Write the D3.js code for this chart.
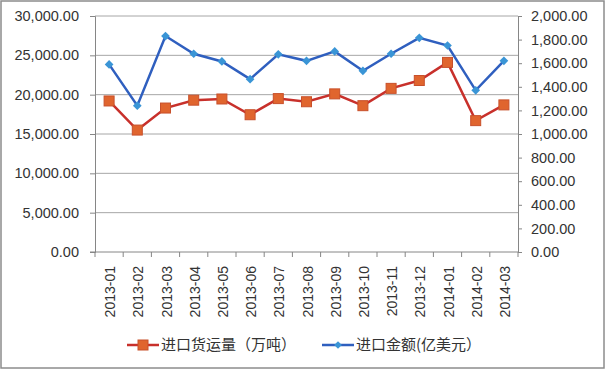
<!DOCTYPE html>
<html>
<head>
<meta charset="utf-8">
<script src="https://cdn.jsdelivr.net/npm/d3@7"></script>
<style>
body { margin: 0; background: #fff; }
text { font-family: "Liberation Sans", Arial, sans-serif; fill: #333; }
.legend text { font-family: "Noto Sans CJK SC", sans-serif; }
</style>
</head>
<body>
<div id="chart"></div>
<script>
const months = ["2013-01","2013-02","2013-03","2013-04","2013-05","2013-06","2013-07","2013-08",
	"2013-09","2013-10","2013-11","2013-12","2014-01","2014-02","2014-03"];
// 进口货运量（万吨） left axis
const tonnage = [19200,15500,18300,19300,19450,17450,19500,19100,20100,18600,20800,21800,24100,16700,18700];
// 进口金额（亿美元） right axis
const amount = [1590,1240,1830,1680,1615,1465,1675,1620,1700,1535,1680,1815,1750,1370,1620];
const leftTicks = [0,5000,10000,15000,20000,25000,30000];
const rightTicks = [0,200,400,600,800,1000,1200,1400,1600,1800,2000];
const seriesNames = ["进口货运量（万吨）","进口金额(亿美元）"];

const w = 607, h = 370;
const plotL = 95, plotR = 518, plotT = 16, plotB = 252;

const svg = d3.select("#chart").append("svg")
	.attr("width", w)
	.attr("height", h);

svg.append("rect")
	.attr("x", 1).attr("y", 1)
	.attr("width", 603).attr("height", 367)
	.attr("fill", "none")
	.attr("stroke", "#8c8c8c")
	.attr("stroke-width", 1.5);

const x = d3.scaleBand().domain(months).range([plotL, plotR]);
const yL = d3.scaleLinear().domain([0, 30000]).range([plotB, plotT]);
const yR = d3.scaleLinear().domain([0, 2000]).range([plotB, plotT]);
const fmt = d3.format(",.2f");
const cx = i => x(months[i]) + x.bandwidth()/2;

// gridlines
svg.append("g").selectAll("line")
	.data(leftTicks.slice(1))
	.join("line")
	.attr("x1", plotL).attr("x2", plotR)
	.attr("y1", d => yL(d)).attr("y2", d => yL(d))
	.attr("stroke", "#a6a6a6")
	.attr("stroke-width", 1);

// left axis
const gL = svg.append("g")
	.attr("transform", `translate(${plotL},0)`)
	.call(d3.axisLeft(yL).tickValues(leftTicks).tickSize(5).tickPadding(11).tickFormat(fmt));
gL.select(".domain").attr("stroke", "#868686");
gL.selectAll(".tick line").attr("stroke", "#868686");
gL.selectAll("text").attr("font-size", 14.5).attr("fill", "#333").attr("font-family", null);

// right axis
const gR = svg.append("g")
	.attr("transform", `translate(${plotR},0)`)
	.call(d3.axisRight(yR).tickValues(rightTicks).tickSize(4).tickPadding(9).tickFormat(fmt));
gR.select(".domain").attr("stroke", "#868686");
gR.selectAll(".tick line").attr("stroke", "#868686");
gR.selectAll("text").attr("font-size", 14.5).attr("fill", "#333").attr("font-family", null);

// x axis
const gX = svg.append("g")
	.attr("transform", `translate(0,${plotB})`);
gX.append("line")
	.attr("x1", plotL - 5).attr("x2", plotR)
	.attr("stroke", "#868686");
gX.selectAll(".xt")
	.data(months.map(m => x(m)).concat([plotR]))
	.join("line")
	.attr("class", "xt")
	.attr("x1", d => d).attr("x2", d => d)
	.attr("y1", 0).attr("y2", 5)
	.attr("stroke", "#868686");
gX.selectAll("text")
	.data(months)
	.join("text")
	.attr("transform", d => `translate(${x(d) + x.bandwidth()/2 + 1},14) rotate(-90)`)
	.attr("text-anchor", "end")
	.attr("dy", "0.36em")
	.attr("font-size", 14)
	.text(d => d);

// lines
const lineL = d3.line().x((d, i) => cx(i)).y(d => yL(d));
const lineR = d3.line().x((d, i) => cx(i)).y(d => yR(d));

svg.append("path")
	.datum(tonnage)
	.attr("d", lineL)
	.attr("fill", "none")
	.attr("stroke", "#c8302b")
	.attr("stroke-width", 2.5);

svg.append("path")
	.datum(amount)
	.attr("d", lineR)
	.attr("fill", "none")
	.attr("stroke", "#2f5fbf")
	.attr("stroke-width", 2.5);

const sq = 10;
svg.append("g").selectAll("rect")
	.data(tonnage)
	.join("rect")
	.attr("x", (d, i) => cx(i) - sq/2)
	.attr("y", d => yL(d) - sq/2)
	.attr("width", sq).attr("height", sq)
	.attr("fill", "#e0652e")
	.attr("stroke", "#c8502b")
	.attr("stroke-width", 1);

svg.append("g").selectAll("path")
	.data(amount)
	.join("path")
	.attr("d", d3.symbol().type(d3.symbolSquare).size(38))
	.attr("transform", (d, i) => `translate(${cx(i)},${yR(d)}) rotate(45)`)
	.attr("fill", "#3a95d6");

// legend
const lg = svg.append("g").attr("class", "legend");
const ly = 345;
const items = [
	{name: seriesNames[0], x0: 127, color: "#c8302b", tx: 161},
	{name: seriesNames[1], x0: 322, color: "#2f5fbf", tx: 356}
];
lg.selectAll("line")
	.data(items)
	.join("line")
	.attr("x1", d => d.x0).attr("x2", d => d.x0 + 32)
	.attr("y1", ly).attr("y2", ly)
	.attr("stroke", d => d.color)
	.attr("stroke-width", 2.5);
lg.append("rect")
	.attr("x", 143 - 5).attr("y", ly - 5)
	.attr("width", 10).attr("height", 10)
	.attr("fill", "#e0652e")
	.attr("stroke", "#c8502b");
lg.append("path")
	.attr("d", d3.symbol().type(d3.symbolSquare).size(30))
	.attr("transform", `translate(338,${ly}) rotate(45)`)
	.attr("fill", "#3a95d6");
lg.selectAll("text")
	.data(items)
	.join("text")
	.attr("x", d => d.tx)
	.attr("y", ly)
	.attr("dy", "0.35em")
	.attr("font-size", 15)
	.text(d => d.name);
</script>
</body>
</html>
